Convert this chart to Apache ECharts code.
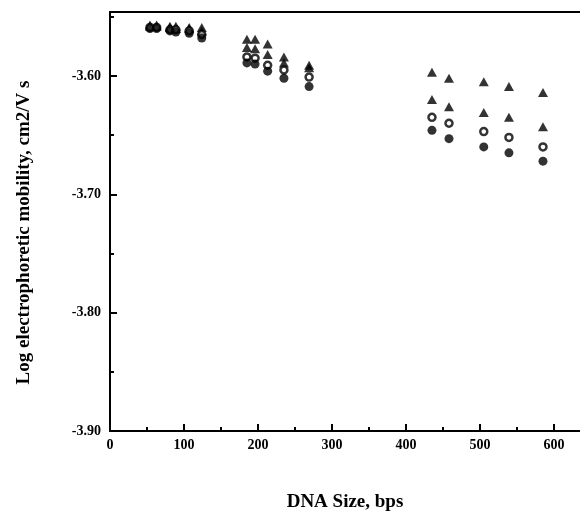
<!DOCTYPE html>
<html>
<head>
<meta charset="utf-8">
<script src="https://cdn.jsdelivr.net/npm/echarts@6/dist/echarts.min.js"></script>
<style>
  html, body { margin: 0; padding: 0; background: #fff; }
  #chart { width: 580px; height: 517px; }
</style>
</head>
<body>
<div id="chart"></div>
<script>
// DNA fragment sizes (bps) and log mobility for four conditions
const sizes = [54, 63, 81, 89, 107, 124, 185, 196, 213, 235, 269, 435, 458, 505, 539, 585];
const triUpper = [-3.557, -3.557, -3.558, -3.558, -3.559, -3.559, -3.569, -3.569, -3.573, -3.584, -3.591, -3.597, -3.602, -3.605, -3.609, -3.614];
const triLower = [-3.558, -3.558, -3.559, -3.560, -3.560, -3.562, -3.576, -3.577, -3.582, -3.589, -3.593, -3.620, -3.626, -3.631, -3.635, -3.643];
const openCirc = [-3.559, -3.559, -3.561, -3.561, -3.562, -3.565, -3.584, -3.585, -3.591, -3.595, -3.601, -3.635, -3.640, -3.647, -3.652, -3.660];
const filledCirc = [-3.560, -3.560, -3.562, -3.563, -3.564, -3.568, -3.589, -3.590, -3.596, -3.602, -3.609, -3.646, -3.653, -3.660, -3.665, -3.672];

// tick positions
const xTicks = [0, 100, 200, 300, 400, 500, 600];
const yTicks = [-3.9, -3.8, -3.7, -3.6];

const FONT = '"Liberation Serif", "DejaVu Serif", serif';
const X_MIN = 0, X_MAX = 635;

const chart = echarts.init(document.getElementById('chart'), null, { renderer: 'canvas' });

function pts(vals) {
  return sizes.map((s, i) => [s, vals[i]]);
}

const tickStyle = { color: '#000', width: 2 };

chart.setOption({
  backgroundColor: '#fff',
  animation: false,
  grid: { left: 110, top: 12, right: 0, bottom: 85 },
  xAxis: [
    {
      type: 'value', min: X_MIN, max: X_MAX, interval: 100,
      name: 'DNA Size, bps', nameLocation: 'middle', nameGap: 62,
      nameTextStyle: { fontFamily: FONT, fontWeight: 'bold', fontSize: 19, color: '#000' },
      axisLine: { show: true, lineStyle: { color: '#000', width: 2 } },
      axisTick: { show: true, inside: true, length: 7, lineStyle: tickStyle, customValues: xTicks },
      minorTick: { show: true, splitNumber: 2, length: 4, lineStyle: tickStyle },
      axisLabel: {
        fontFamily: FONT, fontWeight: 'bold', fontSize: 14, color: '#000', margin: 7,
        customValues: xTicks,
      },
      splitLine: { show: false },
    },
    {
      // top frame line
      type: 'value', position: 'top', min: X_MIN, max: X_MAX,
      axisLine: { show: true, lineStyle: { color: '#000', width: 2 } },
      axisTick: { show: false }, axisLabel: { show: false }, splitLine: { show: false },
    },
  ],
  yAxis: {
    type: 'value', min: -3.9, max: -3.546, interval: 0.1,
    name: 'Log electrophoretic mobility, cm2/V s', nameLocation: 'middle', nameGap: 76,
    nameTextStyle: {
      fontFamily: FONT, fontWeight: 'bold', fontSize: 19, color: '#000',
      padding: [0, 22, 0, 0],
    },
    axisLine: { show: true, lineStyle: { color: '#000', width: 2 } },
    axisTick: { show: true, inside: true, length: 7, lineStyle: tickStyle, customValues: yTicks },
    minorTick: { show: true, splitNumber: 2, length: 4, lineStyle: tickStyle },
    axisLabel: {
      fontFamily: FONT, fontWeight: 'bold', fontSize: 14, color: '#000', margin: 9,
      customValues: yTicks,
      formatter: v => v.toFixed(2),
    },
    splitLine: { show: false },
  },
  series: [
    {
      name: 'tri upper', type: 'scatter', symbol: 'triangle', symbolSize: [10, 9],
      itemStyle: { color: '#000' }, data: pts(triUpper),
    },
    {
      name: 'tri lower', type: 'scatter', symbol: 'triangle', symbolSize: [10, 9],
      itemStyle: { color: '#000' }, data: pts(triLower),
    },
    {
      name: 'open', type: 'scatter', symbol: 'circle', symbolSize: 7,
      itemStyle: { color: '#fff', borderColor: '#000', borderWidth: 2.5 }, data: pts(openCirc),
    },
    {
      name: 'filled', type: 'scatter', symbol: 'circle', symbolSize: 9,
      itemStyle: { color: '#000' }, data: pts(filledCirc),
    },
  ],
});
</script>
</body>
</html>
